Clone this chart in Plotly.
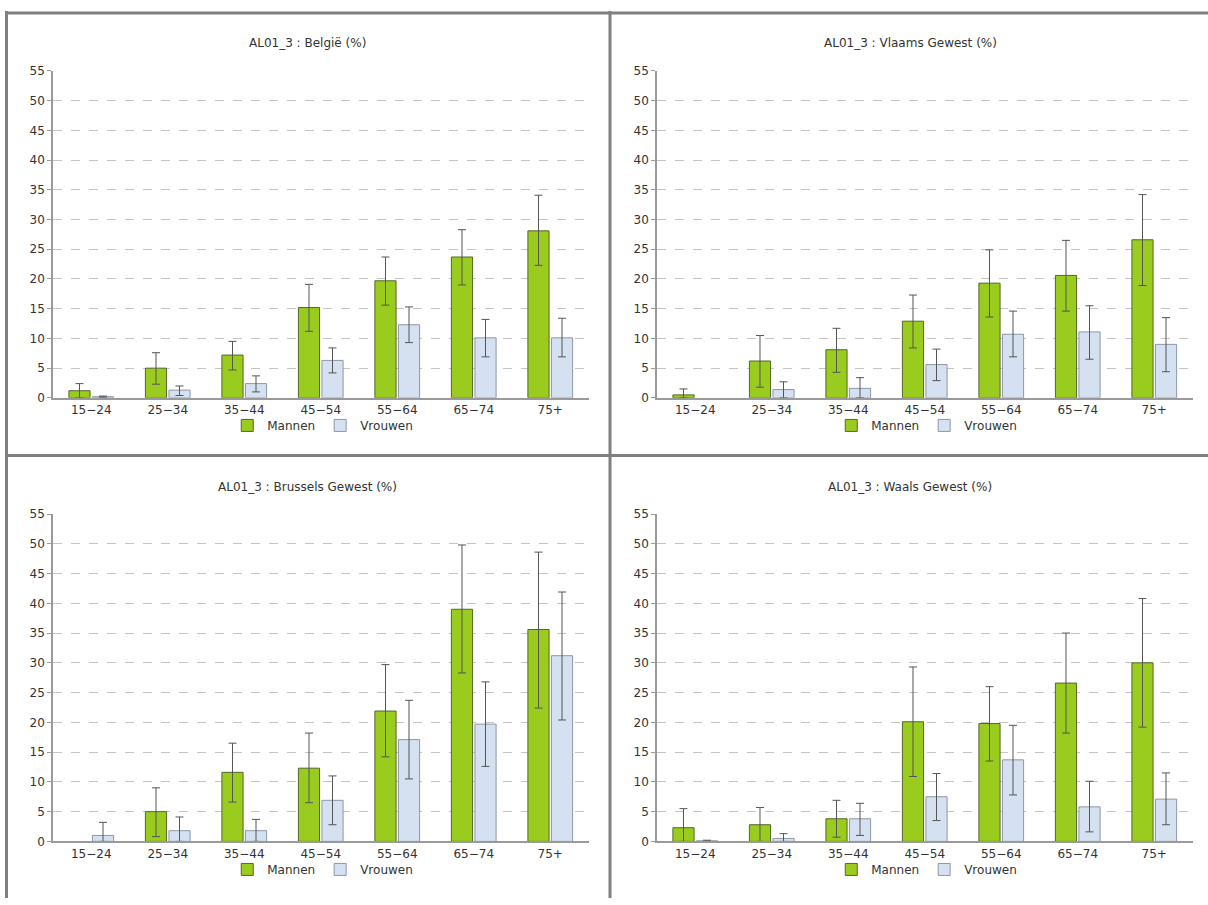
import plotly.graph_objects as go

categories = ["15−24", "25−34", "35−44", "45−54", "55−64", "65−74", "75+"]
titles = ["AL01_3 : België (%)", "AL01_3 : Vlaams Gewest (%)",
          "AL01_3 : Brussels Gewest (%)", "AL01_3 : Waals Gewest (%)"]
series_names = ["Mannen", "Vrouwen"]
y_ticks = [0, 5, 10, 15, 20, 25, 30, 35, 40, 45, 50, 55]

# België
belgie_mannen = [1.2, 5.0, 7.2, 15.2, 19.7, 23.7, 28.1]
belgie_mannen_low = [0.0, 2.3, 4.7, 11.2, 15.6, 19.0, 22.3]
belgie_mannen_high = [2.4, 7.6, 9.5, 19.1, 23.7, 28.3, 34.1]
belgie_vrouwen = [0.2, 1.3, 2.4, 6.3, 12.3, 10.1, 10.1]
belgie_vrouwen_low = [0.1, 0.4, 1.0, 4.2, 9.3, 6.9, 6.9]
belgie_vrouwen_high = [0.3, 2.0, 3.7, 8.4, 15.3, 13.2, 13.4]

# Vlaams Gewest
vlaams_mannen = [0.5, 6.2, 8.1, 12.9, 19.3, 20.6, 26.6]
vlaams_mannen_low = [0.0, 1.8, 4.3, 8.4, 13.6, 14.6, 18.9]
vlaams_mannen_high = [1.5, 10.5, 11.7, 17.3, 24.9, 26.5, 34.2]
vlaams_vrouwen = [None, 1.4, 1.6, 5.6, 10.7, 11.1, 9.0]
vlaams_vrouwen_low = [None, 0.0, 0.0, 2.9, 6.9, 6.5, 4.4]
vlaams_vrouwen_high = [None, 2.7, 3.4, 8.2, 14.6, 15.5, 13.5]

# Brussels Gewest
brussel_mannen = [None, 5.0, 11.6, 12.3, 21.9, 39.0, 35.6]
brussel_mannen_low = [None, 0.8, 6.6, 6.5, 14.2, 28.3, 22.4]
brussel_mannen_high = [None, 9.0, 16.5, 18.2, 29.7, 49.8, 48.6]
brussel_vrouwen = [1.0, 1.8, 1.8, 6.9, 17.1, 19.7, 31.2]
brussel_vrouwen_low = [0.0, 0.0, 0.0, 2.8, 10.5, 12.6, 20.4]
brussel_vrouwen_high = [3.2, 4.1, 3.7, 11.0, 23.7, 26.8, 41.9]

# Waals Gewest
waals_mannen = [2.3, 2.8, 3.8, 20.1, 19.8, 26.6, 30.0]
waals_mannen_low = [0.0, 0.0, 0.7, 10.9, 13.5, 18.2, 19.2]
waals_mannen_high = [5.5, 5.7, 6.9, 29.3, 26.0, 35.0, 40.8]
waals_vrouwen = [0.1, 0.5, 3.8, 7.5, 13.7, 5.8, 7.1]
waals_vrouwen_low = [0.0, 0.0, 1.0, 3.5, 7.8, 1.6, 2.8]
waals_vrouwen_high = [0.2, 1.3, 6.4, 11.4, 19.5, 10.1, 11.5]

panels = [
    (belgie_mannen, belgie_mannen_low, belgie_mannen_high,
     belgie_vrouwen, belgie_vrouwen_low, belgie_vrouwen_high),
    (vlaams_mannen, vlaams_mannen_low, vlaams_mannen_high,
     vlaams_vrouwen, vlaams_vrouwen_low, vlaams_vrouwen_high),
    (brussel_mannen, brussel_mannen_low, brussel_mannen_high,
     brussel_vrouwen, brussel_vrouwen_low, brussel_vrouwen_high),
    (waals_mannen, waals_mannen_low, waals_mannen_high,
     waals_vrouwen, waals_vrouwen_low, waals_vrouwen_high),
]

W, H = 1208, 905
FONT = "DejaVu Sans"
TEXT = "#333333"

fills = ["#99cc1f", "#d5e1f0"]
outlines = ["#55662a", "#8c97a8"]


def px_x(x):
    return x / W


def px_y(y):
    return 1 - y / H


# pixel geometry of plot areas (left, right, top, bottom)
areas = [
    (53, 588.5, 65, 397),
    (657, 1192.5, 65, 397),
    (53, 588.5, 515, 847.5),
    (657, 1192.5, 515, 847.5),
]
panel_centers = [307.5, 910, 307.5, 910]
title_y = [37, 37, 488, 488]
legend_y = [425, 425, 876, 876]


def errs(vals, lo, hi):
    plus, minus = [], []
    for v, l, h in zip(vals, lo, hi):
        if v is None:
            plus.append(None)
            minus.append(None)
        else:
            plus.append(round(h - v, 3))
            minus.append(round(v - l, 3))
    return plus, minus


fig = go.Figure()
layout = dict(
    width=W, height=H,
    margin=dict(l=0, r=0, t=0, b=0),
    paper_bgcolor="white", plot_bgcolor="white",
    barmode="group", bargap=0.385, bargroupgap=0.1,
    font=dict(family=FONT, size=11, color=TEXT),
    annotations=[], shapes=[],
)

for i, data in enumerate(panels):
    k = "" if i == 0 else str(i + 1)
    leg = "legend" + k
    m, ml, mh, v, vl, vh = data
    for j, (vals, lo, hi) in enumerate([(m, ml, mh), (v, vl, vh)]):
        plus, minus = errs(vals, lo, hi)
        fig.add_trace(go.Bar(
            x=categories, y=vals, name=series_names[j],
            xaxis="x" + k, yaxis="y" + k, legend=leg,
            marker=dict(color=fills[j], line=dict(color=outlines[j], width=1)),
            error_y=dict(type="data", symmetric=False, array=plus,
                         arrayminus=minus, color="#555555",
                         thickness=1, width=4),
        ))
    l, r, t, b = areas[i]
    layout["xaxis" + k] = dict(
        domain=[px_x(l), px_x(r)], anchor="y" + k,
        showline=True, linecolor="#9a9a9a", linewidth=1.5,
        ticks="", showgrid=False, zeroline=False,
        tickfont=dict(size=12, color=TEXT), fixedrange=True,
    )
    layout["yaxis" + k] = dict(
        domain=[px_y(b), px_y(t)], anchor="x" + k,
        range=[0, 55], tickvals=y_ticks,
        showline=True, linecolor="#9a9a9a", linewidth=1.5,
        ticks="outside", ticklen=4, tickcolor="#9a9a9a",
        showgrid=True, gridcolor="#c4c4c4", griddash="dash", gridwidth=1,
        zeroline=False, tickfont=dict(size=12, color=TEXT), fixedrange=True,
    )
    layout[leg] = dict(
        orientation="h", x=px_x((l + r) / 2 + 2), xanchor="center",
        y=px_y(legend_y[i]), yanchor="middle",
        font=dict(size=12, color=TEXT), bgcolor="rgba(0,0,0,0)",
        traceorder="normal", itemclick=False, itemdoubleclick=False,
    )
    layout["annotations"].append(dict(
        text=titles[i], xref="paper", yref="paper",
        x=px_x(panel_centers[i]), y=px_y(title_y[i]),
        xanchor="center", yanchor="middle", showarrow=False,
        font=dict(size=12, color=TEXT),
    ))

# panel frame lines (page pixels)
frame = "#7f7f7f"
for (x0, y0, x1, y1) in [(6.5, 4, 6.5, H), (5, 6, W, 6),
                         (610, 4, 610, H), (5, 455.5, W, 455.5)]:
    layout["shapes"].append(dict(
        type="line", xref="paper", yref="paper",
        x0=px_x(x0), y0=px_y(y0), x1=px_x(x1), y1=px_y(y1),
        line=dict(color=frame, width=3),
    ))

fig.update_layout(**layout)
fig.write_html(
    "out.html",
    config={"displayModeBar": False},
    post_script="document.body.style.margin='0';document.body.style.overflow='hidden';",
)
